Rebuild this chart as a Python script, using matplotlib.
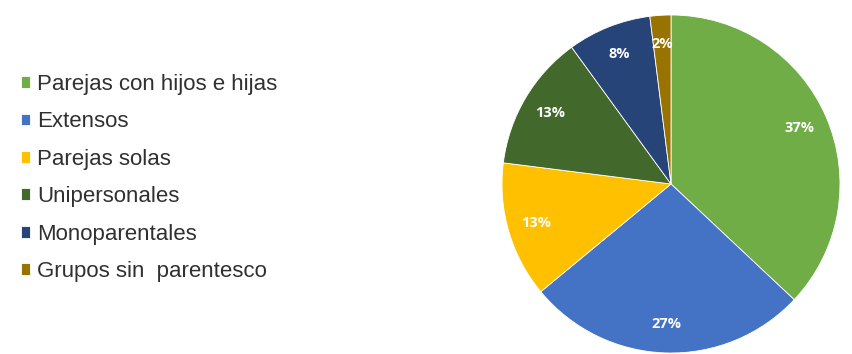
import matplotlib
matplotlib.use("Agg")
import matplotlib.pyplot as plt

categories = ["Parejas con hijos e hijas", "Extensos", "Parejas solas",
              "Unipersonales", "Monoparentales", "Grupos sin  parentesco"]
values = [37, 27, 13, 13, 8, 2]
colors = ["#70AD47", "#4472C4", "#FFC000", "#43682B", "#264478", "#997300"]

W, H = 852, 354
fig = plt.figure(figsize=(W / 100, H / 100), dpi=100)
cx, cy, r = 671, 184, 169
ax = fig.add_axes([(cx - r) / W, (H - cy - r) / H, 2 * r / W, 2 * r / H])

wedges, texts, autotexts = ax.pie(
    values, colors=colors, startangle=90, counterclock=False,
    autopct=lambda p: f"{p:.0f}%", pctdistance=0.83,
    wedgeprops=dict(edgecolor="white", linewidth=0.6),
    textprops=dict(color="white", fontsize=10.5, fontweight="bold", family="Open Sans"))
ax.set_xlim(-1, 1)
ax.set_ylim(-1, 1)
ax.set_aspect("auto")

leg = fig.legend(wedges, categories, loc="upper left",
                 bbox_to_anchor=(12 / W, 1 - 65 / H), frameon=False,
                 prop=dict(family="Liberation Sans", size=16),
                 handlelength=0.43, handleheight=0.43, handletextpad=0.3,
                 labelspacing=0.74, borderaxespad=0)
for t in leg.get_texts():
    t.set_color("#303030")

fig.savefig("out.png", dpi=100, facecolor="white")
